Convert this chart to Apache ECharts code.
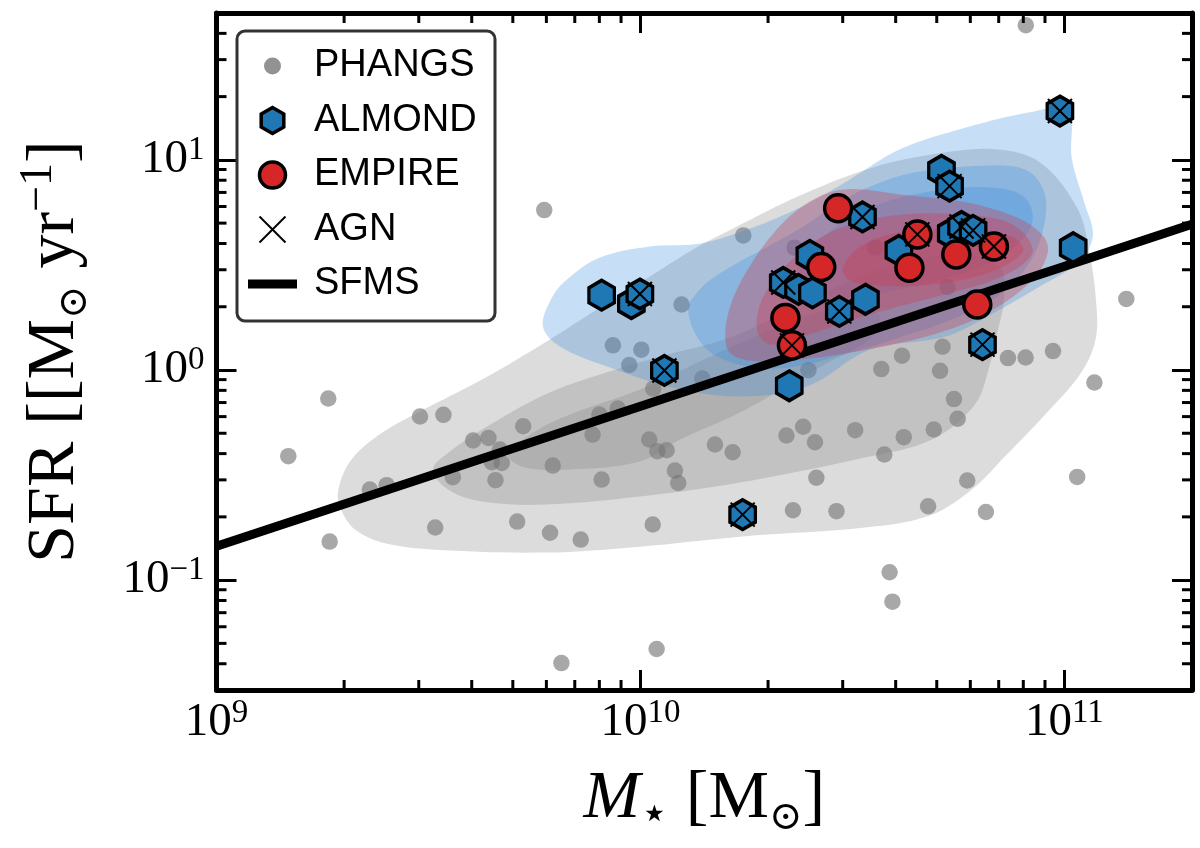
<!DOCTYPE html>
<html>
<head>
<meta charset="utf-8">
<script src="https://cdn.jsdelivr.net/npm/echarts@6/dist/echarts.min.js"></script>
<style>html,body{margin:0;padding:0;background:#fff}#chart{width:1200px;height:848px}</style>
</head>
<body>
<div id="chart"></div>
<script>
// ---------------- DATA ----------------
const phangsMass = [5.93e9,1.748e10,8.11e10,1.25e10,1.40e11,8.61e9,1.005e10,9.41e9,1.40e10,2.49e10,
  1.072e10,3.70e10,4.14e10,5.16e10,5.09e10,7.36e10,8.10e10,9.40e10,1.177e11,5.49e10,
  5.60e10,4.92e10,4.18e10,3.76e10,5.90e10,4.77e10,6.53e10,1.072e11,3.87e10,3.93e10,
  8.0e9,8.84e9,7.71e9,1.049e10,1.096e10,1.153e10,1.499e10,1.65e10,6.21e9,8.10e9,
  1.206e10,1.228e10,2.21e10,2.42e10,2.58e10,3.21e10,2.60e10,6.12e9,7.23e9,1.069e10,
  2.29e10,2.90e10,6.51e9,1.092e10,1.835e9,1.477e9,1.849e9,3.02e9,3.43e9,5.29e9,
  4.03e9,4.38e9,4.66e9,4.46e9,4.71e9,3.61e9,4.55e9,2.30e9,2.52e9,3.28e9,
  5.12e9,2.31e10,3.58e10,5.30e10];
const phangsSFR = [5.77,4.37,43.7,2.05,2.18,1.31,1.25,1.056,0.911,0.998,
  0.816,1.01,1.17,1.29,0.991,1.14,1.147,1.23,0.872,0.727,
  0.586,0.521,0.479,0.396,0.298,0.2246,0.211,0.310,0.109,0.079,
  0.614,0.656,0.493,0.467,0.411,0.415,0.442,0.406,0.351,0.301,
  0.332,0.290,0.488,0.537,0.453,0.517,0.307,0.168,0.156,0.184,
  0.215,0.213,0.0403,0.047,0.732,0.389,0.1526,0.601,0.612,0.540,
  0.462,0.475,0.418,0.364,0.361,0.309,0.299,0.270,0.283,0.178,
  0.190,3.82,3.82,2.48];

const almondMass = [8.10e9,9.52e9,9.97e9,1.139e10,1.742e10,2.244e10,2.51e10,2.172e10,2.36e10,2.545e10,
  2.945e10,3.394e10,3.34e10,4.07e10,5.13e10,5.36e10,5.41e10,5.72e10,6.09e10,6.41e10,9.76e10,1.049e11];
const almondSFR = [2.27,2.07,2.30,0.995,0.205,0.841,3.51,2.61,2.42,2.33,
  1.90,2.17,5.35,3.71,8.91,7.50,4.47,4.82,4.62,1.32,17.08,3.82];
const almondAGN = [0,0,1,1,1,0,0,1,0,0, 1,0,1,0,0,1,0,1,1,1,1,0];

const empireMass = [2.926e10,2.67e10,2.198e10,2.277e10,4.50e10,4.31e10,5.56e10,6.82e10,6.23e10];
const empireSFR = [5.89,3.09,1.77,1.31,4.42,3.07,3.55,3.87,2.05];
const empireAGN = [0,0,0,1,1,0,0,1,0];

const sfmsMass = [1e9, 2e11];
const sfmsSFR = [0.145, 4.94];

// KDE contour outlines [M*, SFR]
const phangsLevel1 = [[1.934e9,0.261],[2.065e9,0.3666],[2.404e9,0.4876],[3.02e9,0.6345],[4.23e9,0.901],[5.955e9,1.352],
  [8.03e9,1.984],[1.053e10,2.788],[1.330e10,3.748],[1.671e10,4.77],[2.378e10,6.776],[3.535e10,9.21],[5.086e10,10.74],
  [6.858e10,11.22],[8.755e10,9.73],[1.076e11,5.81],[1.148e11,3.548],[1.187e11,2.166],[1.187e11,1.428],[1.10e11,0.984],
  [9.146e10,0.6345],[7.24e10,0.3875],[6.05e10,0.2698],[4.818e10,0.2029],[3.385e10,0.1778],[1.717e10,0.161],
  [9.97e9,0.1443],[5.955e9,0.1352],[3.223e9,0.1397],[2.457e9,0.1509],[2.121e9,0.174],[1.977e9,0.212]];
const phangsLevel2 = [[3.240e9,0.336],[3.553e9,0.409],[4.23e9,0.5206],[5.955e9,0.7647],[8.03e9,0.952],[1.112e10,1.16],
  [1.626e10,1.428],[2.378e10,2.051],[3.672e10,3.01],[5.668e10,3.548],[7.047e10,3.077],[7.2e10,2.166],[6.932e10,1.476],
  [6.674e10,1.062],[6.151e10,0.685],[4.87e10,0.4667],[3.385e10,0.383],[1.717e10,0.2912],[9.97e9,0.2498],
  [5.955e9,0.2288],[4.23e9,0.2365],[3.516e9,0.2698]];
const phangsLevel3 = [[4.87e9,0.396],[5.639e9,0.5096],[6.82e9,0.614],[9.97e9,0.8077],[1.381e10,1.098],[1.913e10,1.476],
  [2.651e10,1.899],[3.294e10,2.051],[3.672e10,1.778],[3.478e10,1.397],[2.799e10,1.098],[1.717e10,0.6276],
  [1.24e10,0.4667],[9.97e9,0.3666],[6.857e9,0.336],[5.341e9,0.3434]];

const almondLevel1 = [[5.888e9,1.611],[6.184e9,2.214],[6.709e9,2.698],[8.03e9,3.434],[1.053e10,3.874],[1.381e10,4.004],
  [1.813e10,4.72],[2.378e10,5.94],[3.12e10,8.075],[4.093e10,11.22],[5.888e10,14.28],[8.29e10,16.84],[1.019e11,17.4],
  [1.042e11,10.06],[1.118e11,6.14],[1.168e11,4.516],[1.13e11,3.627],[1.042e11,3.077],[8.755e10,2.498],[7.047e10,1.941],
  [5.577e10,1.509],[4.87e10,1.397],[3.478e10,1.252],[2.47e10,0.8345],[1.717e10,0.748],[1.193e10,0.8254],
  [8.34e9,1.039],[6.457e9,1.294]];
const almondLevel2 = [[1.294e10,1.941],[1.381e10,2.417],[1.499e10,2.788],[1.717e10,3.286],[2.02e10,3.916],[2.443e10,4.876],
  [2.954e10,6.345],[3.583e10,7.645],[4.452e10,8.72],[5.888e10,9.31],[8.07e10,9.01],[8.995e10,6.85],[8.85e10,4.418],
  [8.16e10,3.11],[7.047e10,2.288],[5.577e10,1.778],[4.093e10,1.428],[2.954e10,1.172],[2.252e10,1.028],
  [1.745e10,1.05],[1.42e10,1.28]];
const almondLevel3 = [[2.378e10,3.286],[2.799e10,4.566],[3.478e10,5.94],[4.818e10,7.08],[6.674e10,7.396],[8.07e10,6.627],
  [8.38e10,4.93],[7.24e10,3.548],[5.668e10,2.85],[4.093e10,2.417],[3.036e10,2.214],[2.51e10,2.417]];

const empireLevel1 = [[1.591e10,1.323],[1.608e10,1.838],[1.736e10,2.698],[2.076e10,4.566],[2.51e10,6.345],[3.036e10,7.237],
  [4.093e10,6.85],[5.888e10,6.276],[7.727e10,5.324],[8.85e10,4.418],[9.146e10,3.667],[8.43e10,2.698],[6.674e10,1.899],
  [5.086e10,1.509],[3.44e10,1.252],[2.378e10,1.122],[1.913e10,1.098],[1.671e10,1.16]];
const empireLevel2 = [[1.883e10,1.559],[1.945e10,2.214],[2.252e10,3.286],[2.799e10,4.516],[3.672e10,5.324],[5.086e10,5.563],
  [7.047e10,5.207],[8.07e10,4.418],[8.38e10,3.548],[7.047e10,2.758],[4.897e10,2.214],[3.42e10,1.818],
  [2.378e10,1.428],[2.02e10,1.323]];
const empireLevel3 = [[3.003e10,3.077],[3.33e10,3.916],[4.093e10,4.516],[5.668e10,4.667],[7.52e10,4.323],[7.98e10,3.667],
  [6.745e10,2.944],[4.897e10,2.554],[3.672e10,2.526],[3.12e10,2.668]];

// axes
const xTickExponents = [9, 10, 11];
const yTickExponents = [-1, 0, 1];
const xMinorTicks = [2e9,3e9,4e9,5e9,6e9,7e9,8e9,9e9,2e10,3e10,4e10,5e10,6e10,7e10,8e10,9e10];
const yMinorTicks = [0.04,0.05,0.06,0.07,0.08,0.09,0.2,0.3,0.4,0.5,0.6,0.7,0.8,0.9,2,3,4,5,6,7,8,9,20,30,40];
const legendLabels = ['PHANGS', 'ALMOND', 'EMPIRE', 'AGN', 'SFMS'];

// ---------------- CHART ----------------
const chart = echarts.init(document.getElementById('chart'), null, {renderer: 'canvas', width: 1200, height: 848});
const serif = "'Liberation Serif','DejaVu Serif',serif";
const sans = "'Liberation Sans','DejaVu Sans',sans-serif";
const hexPath = 'path://M0,-1L0.866,-0.5L0.866,0.5L0,1L-0.866,0.5L-0.866,-0.5Z';
const crossPath = 'path://M0,0L1,1M1,0L0,1';
const grayFill = 'rgba(100,100,100,0.7)';

function expFormatter(allowed) {
  return function (v) {
    const l = Math.log10(v);
    const e = Math.round(l);
    if (Math.abs(l - e) > 1e-6 || allowed.indexOf(e) < 0) return '';
    const ex = e < 0 ? '\u2212' + (-e) : String(e);
    return '{b|10}{s|' + ex + '}';
  };
}
const labelRich = {
  b: {fontFamily: serif, fontSize: 47, lineHeight: 52, color: '#000'},
  s: {fontFamily: serif, fontSize: 33, lineHeight: 25, verticalAlign: 'top', color: '#000'}
};
const axisLine = {show: true, onZero: false, lineStyle: {color: '#000', width: 5}};
const axisTick = {show: true, inside: true, length: 20, lineStyle: {color: '#000', width: 3}};

function contourSeries(name, levels, color) {
  return {
    type: 'custom', name: name, coordinateSystem: 'cartesian2d', z: 2, silent: true, clip: true,
    data: levels.map(l => l[0]),
    encode: {x: 0, y: 1},
    renderItem: function (params, api) {
      const pts = levels[params.dataIndex].map(p => api.coord(p));
      return {type: 'polygon', shape: {points: pts, smooth: 0.35}, style: {fill: color, stroke: null, lineWidth: 0}};
    }
  };
}

const agnData = [];
almondMass.forEach((m, i) => { if (almondAGN[i]) agnData.push([m, almondSFR[i]]); });
empireMass.forEach((m, i) => { if (empireAGN[i]) agnData.push([m, empireSFR[i]]); });

// legend geometry
const LX = 272.5, LY = [66, 120.5, 175, 229.5, 284];
function hexPts(cx, cy, rx, ry) {
  return [[cx, cy - ry], [cx + rx, cy - ry / 2], [cx + rx, cy + ry / 2], [cx, cy + ry], [cx - rx, cy + ry / 2], [cx - rx, cy - ry / 2]];
}
const legendGraphic = [
  {type: 'rect', z: 100, shape: {x: 237, y: 31, width: 258, height: 290, r: 8},
   style: {fill: 'rgba(255,255,255,0.85)', stroke: '#333', lineWidth: 3}},
  {type: 'circle', z: 101, shape: {cx: LX, cy: LY[0], r: 8.5}, style: {fill: grayFill}},
  {type: 'polygon', z: 101, shape: {points: hexPts(LX, LY[1], 11.3, 13)}, style: {fill: '#1f77b4', stroke: '#000', lineWidth: 3.5}},
  {type: 'circle', z: 101, shape: {cx: LX, cy: LY[2], r: 13}, style: {fill: '#d62728', stroke: '#000', lineWidth: 3.5}},
  {type: 'line', z: 101, shape: {x1: LX - 13, y1: LY[3] - 13, x2: LX + 13, y2: LY[3] + 13}, style: {stroke: '#000', lineWidth: 2}},
  {type: 'line', z: 101, shape: {x1: LX + 13, y1: LY[3] - 13, x2: LX - 13, y2: LY[3] + 13}, style: {stroke: '#000', lineWidth: 2}},
  {type: 'line', z: 101, shape: {x1: 248, y1: LY[4], x2: 297, y2: LY[4]}, style: {stroke: '#000', lineWidth: 9}}
];
legendLabels.forEach((t, i) => {
  legendGraphic.push({type: 'text', z: 101, x: 314, y: LY[i],
    style: {text: t, fontFamily: sans, fontSize: 38, fill: '#000', verticalAlign: 'middle', textVerticalAlign: 'middle', align: 'left'}});
});

function tickSeries(values, isX) {
  return {
    type: 'custom', coordinateSystem: 'cartesian2d', z: 10, silent: true, clip: false,
    data: values.map(v => isX ? [v, 1] : [1e10, v]),
    encode: {x: 0, y: 1},
    renderItem: function (params, api) {
      const cs = params.coordSys;
      const p = api.coord([api.value(0), api.value(1)]);
      const st = {stroke: '#000', lineWidth: 3};
      if (isX) {
        const x = p[0];
        return {type: 'group', children: [
          {type: 'line', shape: {x1: x, y1: cs.y + cs.height, x2: x, y2: cs.y + cs.height - 10}, style: st},
          {type: 'line', shape: {x1: x, y1: cs.y, x2: x, y2: cs.y + 10}, style: st}
        ]};
      }
      const y = p[1];
      return {type: 'group', children: [
        {type: 'line', shape: {x1: cs.x, y1: y, x2: cs.x + 10, y2: y}, style: st},
        {type: 'line', shape: {x1: cs.x + cs.width, y1: y, x2: cs.x + cs.width - 10, y2: y}, style: st}
      ]};
    }
  };
}

const option = {
  animation: false,
  backgroundColor: '#fff',
  grid: {left: 216.5, right: 8, top: 13, bottom: 158, containLabel: false, outerBoundsMode: 'none'},
  xAxis: [
    {type: 'log', logBase: 10, min: 1e9, max: 2e11, position: 'bottom',
     axisLine: axisLine, axisTick: axisTick, splitLine: {show: false}, minorTick: {show: false},
     axisLabel: {show: true, margin: 7, formatter: expFormatter(xTickExponents), rich: labelRich},
     name: '{it|M}{st|\u22C6}{n| [M}{sub|\u2299}{n|]}', nameLocation: 'middle', nameGap: 69, nameMoveOverlap: false,
     nameTextStyle: {rich: {
       it: {fontFamily: serif, fontStyle: 'italic', fontSize: 68, lineHeight: 80, color: '#000'},
       st: {fontFamily: "'DejaVu Sans',sans-serif", fontSize: 46, lineHeight: 44, verticalAlign: 'bottom', color: '#000'},
       n: {fontFamily: serif, fontSize: 68, lineHeight: 80, color: '#000'},
       sub: {fontFamily: "'DejaVu Serif',serif", fontSize: 40, lineHeight: 56, verticalAlign: 'bottom', color: '#000'}
     }}},
    {type: 'log', logBase: 10, min: 1e9, max: 2e11, position: 'top',
     axisLine: axisLine, axisTick: axisTick, splitLine: {show: false}, axisLabel: {show: false}}
  ],
  yAxis: [
    {type: 'log', logBase: 10, min: 0.03, max: 50, position: 'left',
     axisLine: axisLine, axisTick: axisTick, splitLine: {show: false}, minorTick: {show: false},
     axisLabel: {show: true, margin: 12, formatter: expFormatter(yTickExponents), rich: labelRich},
     name: '{n|SFR [[M}{sub|\u2299}{n| yr}{sup|\u22121}{n|]}', nameLocation: 'middle', nameGap: 121, nameMoveOverlap: false,
     nameTextStyle: {rich: {
       n: {fontFamily: serif, fontSize: 68, lineHeight: 80, color: '#000'},
       sub: {fontFamily: "'DejaVu Serif',serif", fontSize: 40, lineHeight: 56, verticalAlign: 'bottom', color: '#000'},
       sup: {fontFamily: serif, fontSize: 46, lineHeight: 32, verticalAlign: 'top', color: '#000'}
     }}},
    {type: 'log', logBase: 10, min: 0.03, max: 50, position: 'right',
     axisLine: axisLine, axisTick: axisTick, splitLine: {show: false}, axisLabel: {show: false}}
  ],
  graphic: legendGraphic,
  series: [
    {type: 'scatter', name: 'PHANGS', z: 1, silent: true, symbol: 'circle', symbolSize: 16.5,
     itemStyle: {color: grayFill},
     data: phangsMass.map((m, i) => [m, phangsSFR[i]])},
    contourSeries('PHANGS KDE', [phangsLevel1, phangsLevel2, phangsLevel3], 'rgba(128,128,128,0.28)'),
    contourSeries('ALMOND KDE', [almondLevel1, almondLevel2, almondLevel3], 'rgba(50,140,225,0.28)'),
    contourSeries('EMPIRE KDE', [empireLevel1, empireLevel2, empireLevel3], 'rgba(205,60,80,0.34)'),
    {type: 'line', name: 'SFMS', z: 3, silent: true, symbol: 'none', clip: true,
     lineStyle: {color: '#000', width: 9},
     data: sfmsMass.map((m, i) => [m, sfmsSFR[i]])},
    {type: 'scatter', name: 'ALMOND', z: 4, silent: true, symbol: hexPath, symbolSize: [25.5, 29.5],
     itemStyle: {color: '#1f77b4', borderColor: '#000', borderWidth: 3.5, opacity: 1},
     data: almondMass.map((m, i) => [m, almondSFR[i]])},
    {type: 'scatter', name: 'EMPIRE', z: 5, silent: true, symbol: 'circle', symbolSize: 27,
     itemStyle: {color: '#d62728', borderColor: '#000', borderWidth: 3.5, opacity: 1},
     data: empireMass.map((m, i) => [m, empireSFR[i]])},
    {type: 'scatter', name: 'AGN', z: 6, silent: true, symbol: crossPath, symbolSize: 24,
     itemStyle: {color: 'rgba(0,0,0,0)', borderColor: '#000', borderWidth: 2, opacity: 1},
     data: agnData},
    tickSeries(xMinorTicks, true),
    tickSeries(yMinorTicks, false)
  ]
};
chart.setOption(option);
</script>
</body>
</html>
